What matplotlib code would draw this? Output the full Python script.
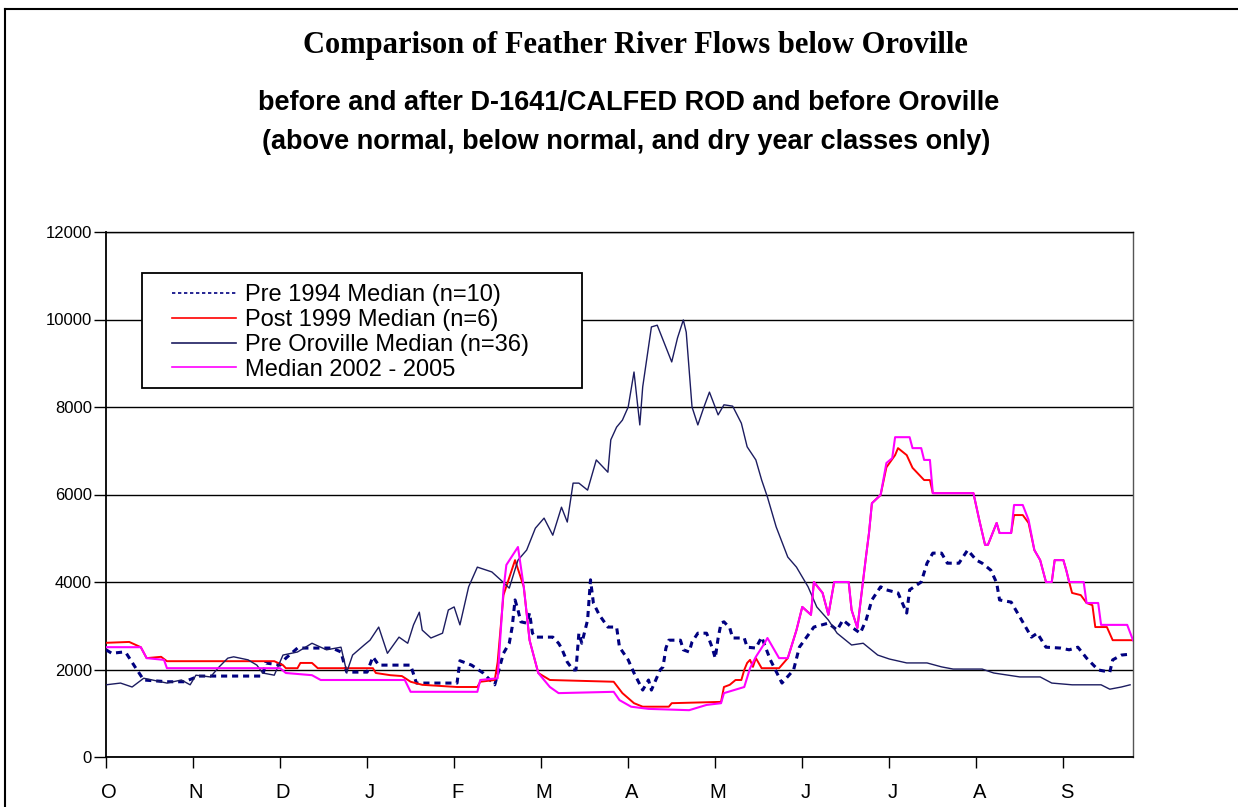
import matplotlib
matplotlib.use("Agg")
import matplotlib.pyplot as plt
import matplotlib.transforms as mtransforms
from matplotlib.lines import Line2D
from matplotlib.patches import Rectangle

plt.rcParams["font.family"] = ["Liberation Sans", "DejaVu Sans"]

# day of water year (Oct 1 = 0) and flow (cfs)
pre_oroville_days = [0, 5, 9, 13, 16, 21, 26, 29, 31, 36, 39, 42, 44, 49, 52, 54, 58, 61, 66, 71,
                     76, 81, 83, 85, 89, 91, 94, 97, 101, 104, 106, 108, 109, 112, 116, 118, 120,
                     122, 125, 128, 133, 136, 139, 142, 145, 148, 151, 154, 157, 159, 161, 163,
                     166, 169, 173, 174, 176, 178, 180, 182, 184, 185, 188, 190, 195, 197, 199,
                     200, 202, 204, 206, 208, 211, 213, 216, 219, 221, 224, 226, 228, 231, 235,
                     238, 242, 245, 249, 252, 257, 261, 266, 270, 276, 283, 288, 292, 302, 306,
                     315, 322, 326, 333, 343, 346, 350, 353]
pre_oroville = [1650, 1690, 1600, 1800, 1760, 1690, 1760, 1650, 1870, 1830, 2060, 2260, 2290, 2220,
                2100, 1920, 1870, 2330, 2400, 2600, 2450, 2510, 1940, 2330, 2560, 2670, 2970, 2370,
                2740, 2600, 3020, 3310, 2900, 2720, 2830, 3360, 3430, 3020, 3890, 4340, 4230, 4050,
                3860, 4500, 4730, 5230, 5460, 5070, 5710, 5370, 6260, 6260, 6100, 6790, 6510, 7250,
                7540, 7700, 8000, 8800, 7590, 8460, 9830, 9870, 9030, 9580, 9990, 9710, 8000, 7590,
                7980, 8340, 7820, 8050, 8020, 7630, 7090, 6790, 6330, 5940, 5260, 4570, 4340, 3890,
                3430, 3130, 2830, 2560, 2600, 2330, 2240, 2150, 2150, 2060, 2010, 2010, 1920, 1830,
                1830, 1690, 1650, 1650, 1550, 1600, 1650]

pre1994_days = [0, 2, 6, 7, 10, 13, 21, 27, 32, 54, 55, 60, 62, 66, 78, 81, 82, 83, 90, 92, 94,
                105, 107, 121, 122, 126, 130, 134, 137, 139, 140, 141, 142, 143, 145, 146, 147,
                148, 154, 156, 157, 159, 161, 162, 163, 164, 166, 167, 168, 170, 173, 176, 177,
                180, 182, 185, 187, 188, 191, 192, 193, 194, 198, 199, 201, 202, 204, 207, 208,
                209, 210, 211, 212, 213, 215, 216, 220, 221, 224, 226, 229, 233, 237, 239, 244,
                249, 252, 254, 257, 260, 262, 264, 267, 269, 273, 276, 277, 281, 283, 285, 288,
                290, 294, 297, 300, 302, 305, 307, 308, 312, 315, 319, 321, 324, 329, 332, 335,
                338, 342, 346, 347, 350, 353]
pre1994 = [2450, 2370, 2400, 2370, 2060, 1760, 1720, 1720, 1850, 1850, 2150, 2100, 2260, 2490,
           2490, 2400, 2150, 1940, 1940, 2290, 2100, 2100, 1690, 1690, 2200, 2100, 1920, 1650,
           2370, 2600, 2970, 3590, 3360, 3090, 3060, 3290, 2830, 2740, 2740, 2600, 2490, 2170,
           1990, 1990, 2830, 2600, 3130, 4050, 3520, 3250, 2970, 2970, 2510, 2220, 1920, 1530,
           1760, 1530, 1990, 2060, 2490, 2670, 2670, 2450, 2400, 2630, 2830, 2830, 2670, 2490,
           2260, 2720, 3060, 3090, 2950, 2720, 2720, 2510, 2490, 2740, 2220, 1690, 1990, 2510,
           2970, 3060, 2900, 3130, 2970, 2830, 3130, 3590, 3890, 3820, 3750, 3290, 3820, 4000,
           4430, 4660, 4660, 4430, 4430, 4730, 4500, 4430, 4270, 3980, 3590, 3540, 3200, 2740,
           2830, 2510, 2490, 2450, 2510, 2260, 1990, 1940, 2220, 2330, 2350]

post1999_days = [0, 8, 12, 14, 19, 21, 58, 61, 62, 66, 67, 71, 73, 92, 93, 98, 102, 105, 109, 121,
                 128, 129, 134, 135, 137, 141, 144, 146, 149, 153, 175, 178, 182, 185, 194, 195,
                 212, 213, 215, 217, 219, 220, 221, 222, 223, 224, 226, 232, 235, 238, 240, 243,
                 244, 247, 249, 251, 256, 257, 259, 261, 262, 263, 264, 267, 269, 272, 273, 276,
                 278, 282, 284, 285, 299, 301, 303, 304, 307, 308, 312, 313, 316, 318, 320, 322,
                 324, 326, 327, 330, 331, 332, 333, 336, 338, 340, 341, 345, 347, 354]
post1999 = [2610, 2630, 2510, 2260, 2290, 2190, 2190, 2100, 2030, 2030, 2150, 2150, 2030, 2030,
            1920, 1870, 1850, 1720, 1650, 1600, 1600, 1720, 1760, 2170, 3700, 4500, 3890, 2670,
            1920, 1760, 1720, 1460, 1230, 1150, 1150, 1230, 1260, 1600, 1650, 1760, 1760, 1990,
            2150, 2220, 2060, 2260, 2030, 2030, 2260, 2900, 3430, 3250, 4000, 3750, 3250, 4000,
            4000, 3360, 2950, 4050, 4600, 5120, 5800, 5990, 6620, 6900, 7060, 6900, 6610, 6330,
            6330, 6030, 6030, 5420, 4850, 4850, 5350, 5120, 5120, 5530, 5530, 5350, 4730, 4500,
            4000, 4000, 4500, 4500, 4270, 4000, 3750, 3700, 3520, 3470, 2970, 2970, 2670, 2670]

median0205_days = [0, 12, 14, 20, 21, 60, 62, 71, 74, 98, 103, 105, 128, 129, 135, 137, 138, 142,
                   144, 146, 149, 153, 156, 175, 177, 181, 187, 201, 207, 212, 213, 220, 222, 224,
                   227, 228, 230, 232, 235, 238, 240, 243, 244, 247, 249, 251, 256, 257, 259, 261,
                   262, 263, 264, 267, 269, 271, 272, 277, 278, 281, 282, 284, 285, 299, 301, 303,
                   304, 307, 308, 312, 313, 316, 318, 320, 322, 324, 326, 327, 330, 331, 332, 337,
                   338, 342, 343, 352, 354]
median0205 = [2510, 2510, 2260, 2220, 2030, 2030, 1920, 1870, 1760, 1760, 1760, 1490, 1490, 1760,
              1800, 3820, 4390, 4800, 3890, 2670, 1920, 1600, 1460, 1490, 1300, 1150, 1100, 1070,
              1190, 1230, 1460, 1600, 2030, 2290, 2600, 2720, 2490, 2260, 2260, 2900, 3430, 3250,
              4000, 3750, 3250, 4000, 4000, 3360, 2950, 4050, 4600, 5120, 5800, 5990, 6720, 6830,
              7310, 7310, 7060, 7060, 6790, 6790, 6030, 6030, 5420, 4850, 4850, 5350, 5120, 5120,
              5760, 5760, 5420, 4730, 4500, 4000, 4000, 4500, 4500, 4270, 4000, 4000, 3520, 3520,
              3020, 3020, 2670]

month_labels = ["O", "N", "D", "J", "F", "M", "A", "M", "J", "J", "A", "S"]

fig = plt.figure(figsize=(12.38, 8.07), dpi=100)
ax = fig.add_axes([106 / 1238, 1 - 757 / 807, 1027 / 1238, 525 / 807])

ax.plot(pre1994_days, pre1994, color="#000080", lw=2.2, dashes=(2, 1.6),
        label="Pre 1994 Median (n=10)", zorder=3)
ax.plot(post1999_days, post1999, color="#ff0000", lw=1.4, label="Post 1999 Median (n=6)", zorder=4)
ax.plot(pre_oroville_days, pre_oroville, color="#1c1c60", lw=1.0,
        label="Pre Oroville Median (n=36)", zorder=5)
ax.plot(median0205_days, median0205, color="#ff00ff", lw=1.5, label="Median 2002 - 2005", zorder=6)

ax.set_xlim(0, 354)
ax.set_ylim(0, 12000)
ax.set_yticks(range(0, 12001, 2000))
ax.set_xticks([30 * i for i in range(12)])
ax.set_xticklabels(month_labels)
ax.tick_params(axis="y", direction="out", length=9, width=1, labelsize=12, pad=1)
ax.tick_params(axis="x", direction="out", length=8, width=1, labelsize=14.5, pad=11)
# month letters sit a few pixels right of their tick in the original
nudge = mtransforms.ScaledTranslation(3 / 100, 0, fig.dpi_scale_trans)
for lab in ax.get_xticklabels():
    lab.set_transform(lab.get_transform() + nudge)
ax.grid(axis="y", color="black", lw=1)
ax.set_axisbelow(True)
for s in ["left", "bottom"]:
    ax.spines[s].set_linewidth(1.3)
ax.spines["top"].set_linewidth(1.0)
ax.spines["right"].set_color("#555555")
ax.spines["right"].set_linewidth(1.0)

# legend without its own frame; box drawn separately (wide side padding like the original)
leg = ax.legend(loc="upper left", bbox_to_anchor=(0.0643, 0.9006), borderaxespad=0,
                fontsize=17, frameon=False, handlelength=2.7, handletextpad=0.4,
                labelspacing=0.12, borderpad=0)
for h in leg.get_lines():
    h.set_linewidth(1.2)
ax.add_patch(Rectangle((0.0351, 0.703), 0.4284, 0.219, transform=ax.transAxes,
                       facecolor="white", edgecolor="black", lw=1.3, zorder=7))
leg.set_zorder(8)

fig.text(0.513, 1 - 46 / 807, "Comparison of Feather River Flows below Oroville",
         ha="center", va="center", fontsize=22, fontweight="bold", family="Liberation Serif")
fig.text(0.508, 1 - 103 / 807, "before and after D-1641/CALFED ROD and before Oroville",
         ha="center", va="center", fontsize=19.5, fontweight="bold")
fig.text(0.506, 1 - 142 / 807, "(above normal, below normal, and dry year classes only)",
         ha="center", va="center", fontsize=19.5, fontweight="bold")

# frame around the figure (top and left edges visible in the original)
fig.add_artist(Line2D([5 / 1238, 1], [1 - 9 / 807, 1 - 9 / 807], color="black", lw=1.5,
                      transform=fig.transFigure))
fig.add_artist(Line2D([5 / 1238, 5 / 1238], [0, 1 - 9 / 807], color="black", lw=1.5,
                      transform=fig.transFigure))

fig.savefig("out.png", dpi=100)
